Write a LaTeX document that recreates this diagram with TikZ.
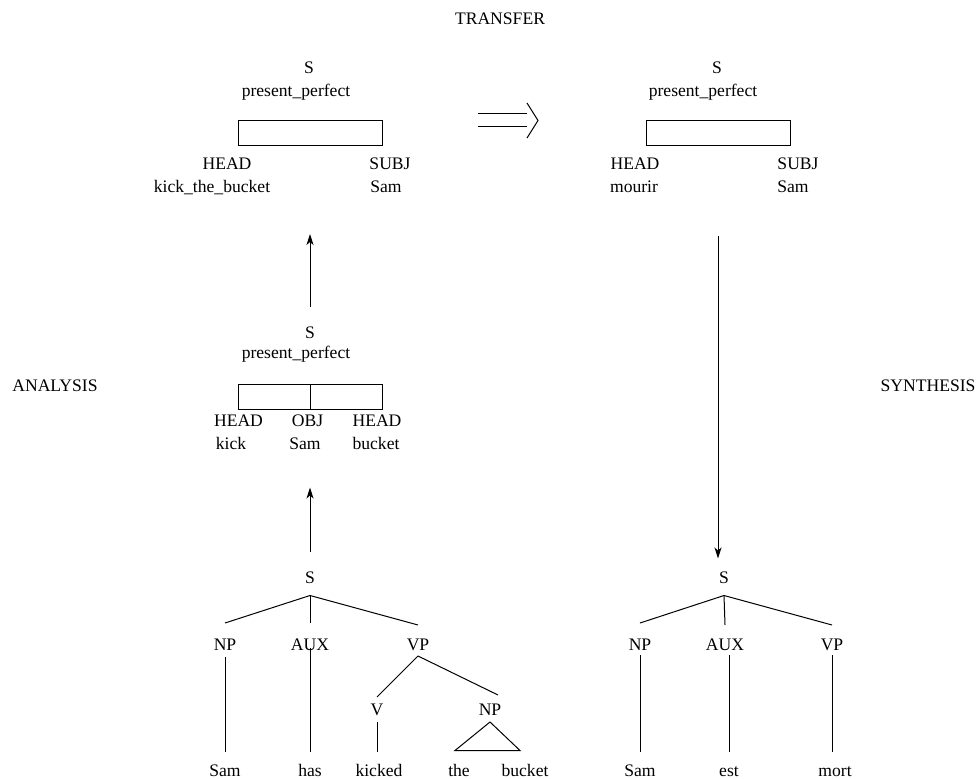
\documentclass[tikz,border=0pt]{standalone}
\usepackage{fontspec}
\setmainfont{Liberation Serif}
\usetikzlibrary{arrows.meta}

\tikzset{
  lbl/.style={inner sep=0pt, outer sep=0pt, text height=6pt, text depth=0pt,
    font=\fontsize{8.8}{10.5}\selectfont},
  fbox/.style={draw, rectangle, inner sep=0pt, outer sep=0pt,
    minimum width=72pt, minimum height=12.5pt},
  flow/.style={-{Stealth[length=5.5pt,width=3.5pt,inset=1.5pt]}}
}

\begin{document}
\begin{tikzpicture}[x=0.5pt,y=-0.5pt,line width=0.5pt]
\useasboundingbox (0,0) rectangle (977,779);

% stage names
\node[lbl] (transfer) at (500,19) {TRANSFER};
\node[lbl] (analysis) at (55,386) {ANALYSIS};
\node[lbl] (synthesis) at (928,386) {SYNTHESIS};

% source structure
\node[lbl] (kS) at (309,68) {S};
\node[lbl] (kTense) at (296,90.5) {present\_perfect};
\node[fbox] (kBox) at (310,133.5) {};
\node[lbl] (kHead) at (227,163.5) {HEAD};
\node[lbl] (kSubj) at (390,163.5) {SUBJ};
\node[lbl] (kIdiom) at (212,187) {kick\_the\_bucket};
\node[lbl] (kSam) at (386,187) {Sam};

% target structure
\node[lbl] (tS) at (717,68) {S};
\node[lbl] (tTense) at (703,90.5) {present\_perfect};
\node[fbox] (tBox) at (718,133.5) {};
\node[lbl] (tHead) at (635,163.5) {HEAD};
\node[lbl] (tSubj) at (798,163.5) {SUBJ};
\node[lbl] (tMourir) at (634,187) {mourir};
\node[lbl] (tSam) at (793,187) {Sam};

% the transfer arrow
\draw (478,114) -- (527,114);
\draw (478,127) -- (527,127);
\draw (527,103) -- (538,120.5) -- (527,138);

% literal structure
\node[lbl] (mS) at (310,333) {S};
\node[lbl] (mTense) at (296,353) {present\_perfect};
\node[fbox] (mBox) at (310,397) {};
\draw (mBox.north) -- (mBox.south);
\node[lbl] (mHead) at (238.5,421) {HEAD};
\node[lbl] (mObj) at (307.5,421) {OBJ};
\node[lbl] (mHeadb) at (377,421) {HEAD};
\node[lbl] (mKick) at (231,443) {kick};
\node[lbl] (mSam) at (305,443) {Sam};
\node[lbl] (mBucket) at (376,443) {bucket};

% english tree
\node[lbl] (lS) at (310,577.5) {S};
\node[lbl] (lNP) at (225,644) {NP};
\node[lbl] (lAUX) at (310,644) {AUX};
\node[lbl] (lVP) at (418,644) {VP};
\node[lbl] (lV) at (377,709) {V};
\node[lbl] (lNPb) at (490,709) {NP};
\node[lbl] (lSam) at (225,770.5) {Sam};
\node[lbl] (lHas) at (310,770.5) {has};
\node[lbl] (lKicked) at (379,770.5) {kicked};
\node[lbl] (lThe) at (459,770.5) {the};
\node[lbl] (lBucket) at (525,770.5) {bucket};

\draw ([yshift=-6pt]lS.south) -- ([yshift=7.5pt]lNP.north);
\draw ([yshift=-6pt]lS.south) -- ([yshift=7.5pt]lAUX.north);
\draw ([yshift=-6pt]lS.south) -- ([yshift=6.5pt]lVP.north);
\draw ([yshift=-3.5pt]lNP.south) -- ([yshift=6.5pt]lSam.north);
\draw ([yshift=1pt]lAUX.south) -- ([yshift=6.5pt]lHas.north);
\draw ([yshift=-3pt]lVP.south) -- ([yshift=3pt]lV.north);
\draw ([yshift=-3pt]lVP.south) -- ([xshift=4pt,yshift=4pt]lNPb.north);
\draw ([yshift=-3.5pt]lV.south) -- ([yshift=6.5pt]lV.south |- lKicked.north);
\draw ([yshift=-3.5pt]lNPb.south) -- ([xshift=-2pt,yshift=7pt]lThe.north)
  -- ([xshift=-2.5pt,yshift=7pt]lBucket.north) -- cycle;

% french tree
\node[lbl] (rS) at (724,577.5) {S};
\node[lbl] (rNP) at (640,644) {NP};
\node[lbl] (rAUX) at (725,644) {AUX};
\node[lbl] (rVP) at (832,644) {VP};
\node[lbl] (rSam) at (640,770.5) {Sam};
\node[lbl] (rEst) at (729,770.5) {est};
\node[lbl] (rMort) at (835,770.5) {mort};

\draw ([yshift=-6pt]rS.south) -- ([yshift=7.5pt]rNP.north);
\draw ([yshift=-6pt]rS.south) -- ([yshift=6.5pt]rAUX.north);
\draw ([yshift=-6pt]rS.south) -- ([yshift=6.5pt]rVP.north);
\draw ([yshift=-2.5pt]rNP.south) -- ([yshift=6.5pt]rSam.north);
\draw ([yshift=-2.5pt]rEst.north |- rAUX.south) -- ([yshift=6.5pt]rEst.north);
\draw ([yshift=-2.5pt]rVP.south) -- ([yshift=6.5pt]rVP.south |- rMort.north);

% stage arrows
\draw[flow] ([yshift=10pt]mS.north) -- ([yshift=-44pt]kBox.south);
\draw[flow] ([yshift=10pt]lS.north) -- ([yshift=-39pt]mBox.south);
\draw[flow] ([yshift=-45pt]tBox.south) -- ([yshift=6.5pt]tBox.south |- rS.north);
\end{tikzpicture}
\end{document}
